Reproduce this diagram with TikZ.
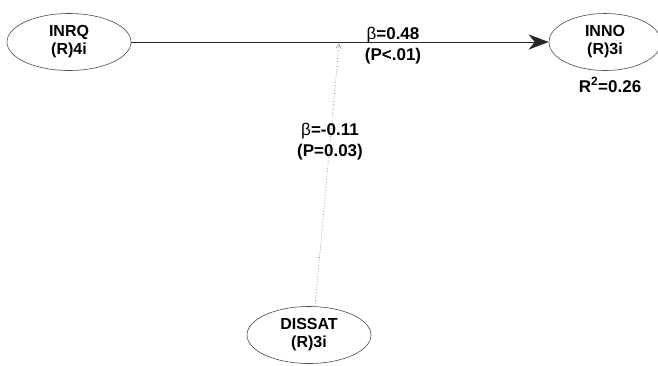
\documentclass[tikz,border=0pt]{standalone}
\usepackage{fontspec}
\setmainfont{Liberation Sans}
\usetikzlibrary{shapes.geometric,arrows.meta}
\newcommand{\bsym}{{\mdseries β}}
\begin{document}
\begin{tikzpicture}[x=1pt,y=-1pt,
  latent/.style={ellipse,draw=black!70,line width=0.6pt,minimum width=124pt,minimum height=57pt,inner sep=0pt,
    font=\bfseries\fontsize{16}{18}\selectfont,align=center},
  lbl/.style={font=\bfseries\fontsize{17}{21}\selectfont,align=center,inner sep=0pt}]
\useasboundingbox (0,0) rectangle (658,365);
\node[latent] (inrq) at (69,42) {INRQ\\(R)4i};
\node[latent,minimum width=112pt] (inno) at (605,42) {INNO\\(R)3i};
\node[latent] (dissat) at (309,335) {DISSAT\\(R)3i};
\draw[black!85,line width=0.7pt,-{Stealth[length=20pt,width=15pt,inset=6pt]}] (inrq.east) -- (inno.west);
\coordinate (mid) at (339,44);
\draw[black!50,line width=0.7pt,dotted,-{Straight Barb[length=4pt,width=5pt,line width=0.5pt]}] (dissat.north) ++(6,0) -- (mid);
\node[lbl] (b1) at (393,46) {\bsym=0.48\\(P<.01)};
\node[lbl] (b2) at (330,142) {\bsym=-0.11\\(P=0.03)};
\node[lbl] (r2) at (610,85) {R\textsuperscript{2}=0.26};
\end{tikzpicture}
\end{document}
